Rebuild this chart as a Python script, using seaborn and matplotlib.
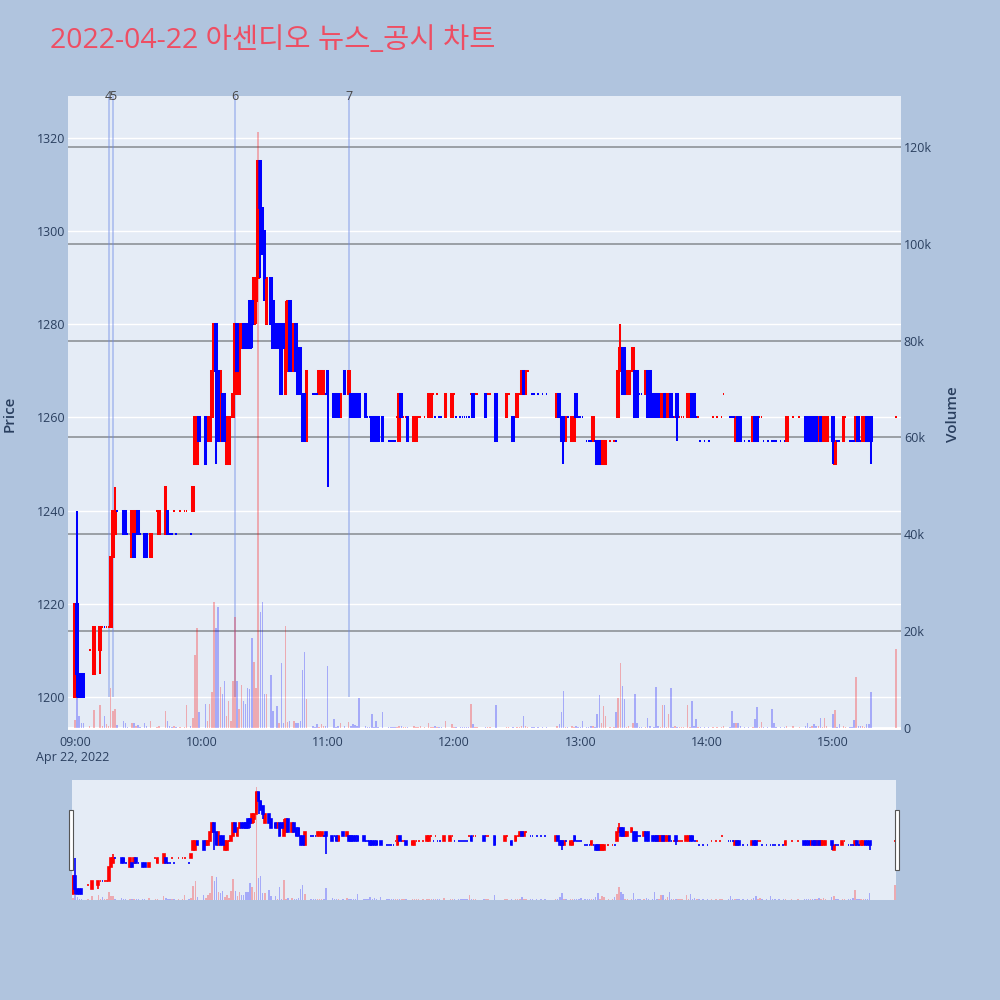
import matplotlib.pyplot as plt
import matplotlib.transforms as mtransforms
import pandas as pd
import seaborn as sns
from matplotlib.lines import Line2D
from matplotlib.patches import Rectangle

# minute bars, x = minutes after 09:00, prices in KRW, volume in thousand shares
bar_min = [0, 1, 2, 3, 4, 9, 12, 17, 18, 19,
           23, 24, 27, 28, 29, 30, 33, 34, 36, 40,
           43, 44, 56, 57, 58, 59, 62, 63, 64, 65,
           66, 67, 68, 69, 70, 71, 72, 73, 75, 76,
           77, 78, 79, 80, 81, 82, 83, 84, 85, 86,
           87, 88, 89, 90, 91, 93, 94, 96, 97, 98,
           99, 100, 101, 102, 104, 105, 106, 107, 108, 109,
           110, 116, 117, 118, 120, 123, 125, 126, 128, 130,
           131, 132, 133, 134, 135, 138, 141, 142, 143, 144,
           146, 154, 155, 158, 161, 162, 168, 169, 176, 179,
           189, 195, 200, 205, 208, 210, 212, 213, 214, 229,
           230, 231, 232, 233, 236, 237, 238, 246, 248, 249,
           250, 251, 252, 258, 259, 260, 261, 262, 263, 265,
           266, 267, 271, 272, 273, 275, 276, 277, 278, 279,
           280, 281, 282, 283, 286, 291, 292, 293, 294, 314,
           315, 316, 322, 323, 324, 338, 347, 348, 349, 350,
           351, 352, 353, 354, 355, 356, 357, 360, 361, 365,
           371, 372, 374, 375, 376, 377, 378]
bar_open = [1200, 1220, 1205, 1205, 1205, 1205, 1210, 1215, 1230, 1235,
            1240, 1240, 1230, 1235, 1235, 1240, 1235, 1235, 1230, 1235,
            1235, 1240, 1240, 1250, 1250, 1260, 1260, 1255, 1255, 1260,
            1270, 1280, 1270, 1255, 1265, 1265, 1250, 1250, 1260, 1265,
            1280, 1265, 1275, 1280, 1280, 1280, 1285, 1285, 1280, 1285,
            1290, 1315, 1305, 1300, 1280, 1290, 1285, 1280, 1275, 1280,
            1280, 1265, 1270, 1285, 1270, 1280, 1275, 1275, 1265, 1265,
            1255, 1265, 1265, 1265, 1270, 1265, 1265, 1260, 1270, 1265,
            1265, 1265, 1265, 1265, 1265, 1265, 1260, 1260, 1260, 1260,
            1260, 1255, 1265, 1260, 1255, 1255, 1260, 1260, 1260, 1260,
            1265, 1265, 1265, 1260, 1260, 1260, 1265, 1270, 1265, 1260,
            1265, 1260, 1260, 1255, 1255, 1255, 1265, 1255, 1255, 1255,
            1250, 1250, 1250, 1260, 1270, 1275, 1275, 1265, 1265, 1270,
            1270, 1270, 1265, 1270, 1270, 1265, 1265, 1265, 1260, 1260,
            1265, 1260, 1260, 1265, 1265, 1260, 1260, 1265, 1265, 1255,
            1260, 1260, 1255, 1260, 1260, 1255, 1260, 1260, 1260, 1255,
            1260, 1260, 1255, 1260, 1255, 1255, 1255, 1260, 1250, 1255,
            1255, 1260, 1255, 1255, 1260, 1260, 1260]
bar_high = [1220, 1240, 1205, 1205, 1205, 1215, 1215, 1230, 1240, 1245,
            1240, 1240, 1240, 1235, 1240, 1240, 1235, 1235, 1235, 1240,
            1245, 1240, 1245, 1260, 1260, 1260, 1260, 1260, 1260, 1270,
            1280, 1280, 1270, 1270, 1265, 1265, 1260, 1260, 1265, 1280,
            1280, 1275, 1280, 1280, 1280, 1280, 1285, 1285, 1290, 1290,
            1315, 1315, 1305, 1300, 1290, 1290, 1285, 1280, 1280, 1280,
            1280, 1285, 1285, 1285, 1280, 1280, 1275, 1275, 1265, 1265,
            1270, 1270, 1270, 1270, 1270, 1265, 1265, 1265, 1270, 1270,
            1265, 1265, 1265, 1265, 1265, 1265, 1260, 1260, 1260, 1260,
            1260, 1265, 1265, 1260, 1260, 1260, 1265, 1265, 1265, 1265,
            1265, 1265, 1265, 1265, 1260, 1265, 1270, 1270, 1270, 1265,
            1265, 1260, 1260, 1260, 1260, 1260, 1265, 1260, 1255, 1255,
            1255, 1255, 1255, 1270, 1280, 1275, 1275, 1270, 1270, 1275,
            1270, 1270, 1270, 1270, 1270, 1265, 1265, 1265, 1265, 1265,
            1265, 1265, 1265, 1265, 1265, 1265, 1265, 1265, 1265, 1260,
            1260, 1260, 1260, 1260, 1260, 1260, 1260, 1260, 1260, 1260,
            1260, 1260, 1260, 1260, 1260, 1260, 1260, 1260, 1255, 1260,
            1260, 1260, 1260, 1260, 1260, 1260, 1260]
bar_low = [1200, 1200, 1200, 1200, 1200, 1205, 1205, 1215, 1230, 1235,
           1235, 1235, 1230, 1230, 1235, 1235, 1230, 1230, 1230, 1235,
           1235, 1235, 1240, 1250, 1250, 1255, 1250, 1255, 1255, 1260,
           1270, 1250, 1255, 1255, 1255, 1255, 1250, 1250, 1260, 1265,
           1270, 1265, 1275, 1275, 1275, 1275, 1275, 1275, 1280, 1280,
           1290, 1290, 1295, 1285, 1280, 1280, 1275, 1275, 1275, 1265,
           1275, 1265, 1270, 1270, 1270, 1270, 1265, 1265, 1255, 1255,
           1255, 1265, 1265, 1265, 1245, 1260, 1260, 1260, 1265, 1265,
           1260, 1260, 1260, 1260, 1260, 1260, 1255, 1255, 1255, 1255,
           1255, 1255, 1260, 1255, 1255, 1255, 1260, 1260, 1260, 1260,
           1260, 1260, 1255, 1260, 1255, 1260, 1265, 1265, 1265, 1260,
           1260, 1255, 1250, 1255, 1255, 1255, 1260, 1255, 1250, 1250,
           1250, 1250, 1250, 1260, 1270, 1265, 1265, 1265, 1265, 1270,
           1260, 1260, 1265, 1260, 1260, 1260, 1260, 1260, 1260, 1260,
           1260, 1260, 1260, 1260, 1255, 1260, 1260, 1260, 1260, 1255,
           1255, 1255, 1255, 1255, 1255, 1255, 1255, 1255, 1255, 1255,
           1255, 1255, 1255, 1255, 1255, 1255, 1255, 1250, 1250, 1255,
           1255, 1255, 1255, 1255, 1255, 1255, 1250]
bar_close = [1220, 1205, 1200, 1200, 1200, 1215, 1215, 1230, 1240, 1240,
             1235, 1235, 1240, 1230, 1240, 1235, 1230, 1230, 1235, 1240,
             1245, 1235, 1245, 1260, 1260, 1255, 1250, 1260, 1260, 1270,
             1280, 1270, 1255, 1270, 1255, 1255, 1260, 1260, 1265, 1280,
             1270, 1275, 1280, 1275, 1275, 1275, 1275, 1280, 1290, 1290,
             1315, 1305, 1295, 1290, 1290, 1280, 1275, 1275, 1280, 1265,
             1275, 1280, 1285, 1270, 1280, 1270, 1265, 1265, 1255, 1255,
             1270, 1270, 1270, 1270, 1265, 1260, 1260, 1265, 1265, 1270,
             1260, 1260, 1260, 1260, 1260, 1260, 1255, 1255, 1255, 1255,
             1255, 1265, 1260, 1255, 1260, 1260, 1265, 1265, 1265, 1265,
             1260, 1260, 1255, 1265, 1255, 1265, 1270, 1265, 1270, 1265,
             1260, 1255, 1255, 1260, 1260, 1260, 1260, 1260, 1250, 1250,
             1255, 1255, 1255, 1270, 1275, 1265, 1265, 1270, 1270, 1275,
             1260, 1260, 1270, 1260, 1260, 1260, 1260, 1260, 1265, 1265,
             1260, 1265, 1265, 1260, 1260, 1265, 1265, 1260, 1260, 1260,
             1255, 1255, 1260, 1255, 1255, 1260, 1255, 1255, 1255, 1260,
             1255, 1255, 1260, 1255, 1260, 1260, 1260, 1255, 1255, 1260,
             1260, 1255, 1260, 1260, 1255, 1255, 1255]
bar_vol = [1.6, 6.8, 2.5, 1.0, 1.0, 3.7, 4.8, 8.3, 3.5, 4.0,
           1.5, 1.0, 1.0, 1.0, 0.5, 0.7, 1.0, 0.5, 1.5, 0.5,
           3.5, 1.5, 2.0, 15.0, 20.6, 3.3, 5.0, 1.5, 5.0, 7.5,
           26.0, 20.6, 25.0, 8.5, 7.0, 9.7, 2.5, 5.5, 9.7, 23.0,
           9.7, 4.0, 8.8, 5.5, 5.0, 8.3, 8.0, 18.6, 13.6, 8.3,
           123.0, 24.0, 26.0, 7.0, 7.0, 11.0, 3.5, 4.5, 1.0, 13.4,
           1.0, 21.0, 1.2, 1.5, 1.5, 1.0, 1.0, 1.5, 12.0, 15.7,
           6.0, 0.3, 0.8, 0.5, 12.8, 1.9, 0.5, 1.0, 0.5, 1.3,
           0.5, 0.8, 0.6, 0.4, 6.2, 0.5, 2.9, 0.3, 1.5, 0.3,
           3.3, 0.4, 0.4, 0.3, 0.5, 0.3, 1.0, 0.3, 1.5, 0.8,
           0.8, 0.3, 4.8, 0.3, 0.3, 0.3, 0.5, 2.5, 0.5, 0.5,
           0.8, 3.3, 7.7, 0.3, 0.5, 0.3, 0.5, 0.5, 3.0, 6.8,
           1.0, 4.5, 2.5, 6.3, 13.4, 8.7, 6.1, 0.3, 0.5, 1.0,
           7.0, 1.0, 0.3, 2.0, 0.5, 0.3, 8.4, 0.5, 0.3, 4.8,
           4.8, 0.3, 2.9, 8.2, 0.3, 4.7, 0.3, 5.6, 0.5, 1.0,
           1.0, 0.5, 0.3, 1.9, 4.3, 0.5, 0.5, 1.0, 0.3, 0.5,
           0.8, 0.5, 0.5, 2.1, 0.3, 2.1, 0.5, 3.0, 3.8, 0.5,
           10.6, 0.5, 0.5, 0.3, 0.8, 0.8, 7.5]

# single-price minutes drawn red (up) / blue (down)
up_doji_min = [7, 13, 15, 16, 39, 47, 50, 52, 53, 74,
               153, 156, 157, 163, 164, 166, 170, 172, 180, 188,
               190, 191, 196, 197, 206, 211, 215, 254, 256, 285,
               287, 288, 289, 296, 303, 305, 307, 308, 325, 326,
               341, 344, 366, 390]
up_doji_price = [1210, 1215, 1215, 1215, 1240, 1240, 1240, 1240, 1240, 1260,
                 1260, 1260, 1260, 1260, 1260, 1260, 1265, 1265, 1265, 1265,
                 1265, 1265, 1265, 1265, 1265, 1265, 1270, 1255, 1255, 1260,
                 1260, 1260, 1260, 1260, 1260, 1260, 1260, 1265, 1260, 1260,
                 1260, 1260, 1260, 1260]
up_doji_vol = [0.5, 0.5, 0.8, 0.5, 0.3, 0.5, 0.3, 0.3, 4.8, 1.5,
               0.3, 0.3, 0.2, 0.3, 0.5, 0.3, 0.3, 0.3, 0.3, 5.0,
               0.3, 0.3, 0.3, 0.3, 0.3, 0.3, 0.3, 0.3, 0.3, 0.5,
               0.3, 0.3, 0.3, 0.3, 0.3, 0.3, 0.3, 0.5, 0.3, 1.3,
               0.5, 0.3, 0.3, 16.4]
down_doji_min = [14, 20, 25, 31, 45, 46, 48, 55, 113, 114,
                 115, 119, 124, 139, 140, 149, 150, 151, 152, 171,
                 173, 174, 181, 183, 184, 185, 186, 187, 217, 218,
                 220, 222, 224, 234, 239, 240, 241, 243, 244, 245,
                 247, 257, 268, 269, 284, 295, 297, 299, 301, 311,
                 312, 313, 318, 320, 327, 329, 331, 332, 333, 335,
                 337, 362, 363, 368, 369, 370, 373]
down_doji_price = [1215, 1240, 1235, 1235, 1235, 1235, 1235, 1235, 1265, 1265,
                   1265, 1265, 1265, 1260, 1260, 1255, 1255, 1255, 1255, 1260,
                   1260, 1260, 1260, 1260, 1260, 1260, 1260, 1260, 1265, 1265,
                   1265, 1265, 1265, 1260, 1260, 1260, 1260, 1255, 1255, 1255,
                   1255, 1255, 1265, 1265, 1260, 1260, 1255, 1255, 1255, 1260,
                   1260, 1260, 1255, 1255, 1255, 1255, 1255, 1255, 1255, 1255,
                   1255, 1255, 1255, 1255, 1255, 1255, 1255]
down_doji_vol = [2.5, 0.7, 0.3, 0.3, 0.5, 0.3, 0.3, 0.5, 0.5, 0.3,
                 0.8, 0.4, 0.3, 0.3, 0.3, 0.3, 0.3, 0.3, 0.3, 0.5,
                 0.3, 0.3, 0.3, 0.3, 0.3, 0.3, 0.3, 0.3, 0.3, 0.3,
                 0.3, 0.3, 0.3, 0.3, 0.3, 0.3, 1.5, 0.3, 0.3, 0.5,
                 0.3, 3.4, 0.3, 0.3, 0.3, 1.9, 0.3, 0.3, 0.3, 0.3,
                 3.6, 1.0, 0.3, 0.3, 0.3, 0.3, 4.0, 1.0, 0.3, 0.3,
                 0.3, 0.3, 0.8, 0.3, 0.3, 1.7, 0.5]

# news / disclosure markers
news_labels = ["4", "5", "6", "7"]
news_min = [16, 18, 76, 130]

tick_min = [0, 60, 120, 180, 240, 300, 360]
tick_labels = ["09:00", "10:00", "11:00", "12:00", "13:00", "14:00", "15:00"]
price_ticks = [1200, 1220, 1240, 1260, 1280, 1300, 1320]
vol_ticks = [0, 20, 40, 60, 80, 100, 120]
vol_tick_labels = ["0", "20k", "40k", "60k", "80k", "100k", "120k"]

title = "2022-04-22 아센디오 뉴스_공시 차트"

BG = "#b0c4de"
PLOT_BG = "#e5ecf6"
UP = "#ff0000"
DOWN = "#0000ff"
TXT = "#2a3f5f"

sns.set_theme(style="white")
plt.rcParams["font.family"] = ["Open Sans", "Noto Sans CJK KR", "DejaVu Sans"]

# one table for all minutes
candles = pd.DataFrame({"minute": bar_min, "open": bar_open, "high": bar_high,
                        "low": bar_low, "close": bar_close, "volume": bar_vol})
candles["up"] = candles["close"] > candles["open"]
up_doji = pd.DataFrame({"minute": up_doji_min, "open": up_doji_price, "high": up_doji_price,
                        "low": up_doji_price, "close": up_doji_price, "volume": up_doji_vol})
up_doji["up"] = True
down_doji = pd.DataFrame({"minute": down_doji_min, "open": down_doji_price, "high": down_doji_price,
                          "low": down_doji_price, "close": down_doji_price, "volume": down_doji_vol})
down_doji["up"] = False
df = pd.concat([candles, up_doji, down_doji]).sort_values("minute").reset_index(drop=True)

PRICE_LIM = (1192.9, 1329.0)
VOL_LIM = (-0.4, 130.5)


def draw_candles(a, data, lw):
    for is_up, color in ((True, UP), (False, DOWN)):
        d = data[data["up"] == is_up]
        a.vlines(d["minute"], d["low"], d["high"], color=color, lw=lw, zorder=3)
        a.bar(d["minute"], (d["close"] - d["open"]).abs(), bottom=d[["open", "close"]].min(axis=1),
              width=0.8, color=color, edgecolor=color, linewidth=lw, zorder=3)


def draw_volume(a, data):
    sns.histplot(data=data, x="minute", weights="volume", hue="up", hue_order=[True, False],
                 palette={True: UP, False: DOWN}, discrete=True, shrink=0.7, alpha=0.28,
                 linewidth=0, legend=False, ax=a)
    a.set_xlabel("")
    a.set_ylabel("")


fig = plt.figure(figsize=(10, 10), dpi=100, facecolor=BG)

# main chart
ax = fig.add_axes([0.068, 0.270, 0.833, 0.634])
ax.set_facecolor(PLOT_BG)
axv = ax.twinx()

draw_candles(ax, df, lw=1.45)
draw_volume(axv, df)

ax.set_xlim(-3.3, 392.3)
ax.set_ylim(*PRICE_LIM)
axv.set_ylim(*VOL_LIM)

# gridlines of both axes sit below the candles
for p in price_ticks:
    ax.axhline(p, color="white", lw=1.0, zorder=0.5)
vol_tr = mtransforms.blended_transform_factory(ax.transAxes, axv.transData)
for v in vol_ticks:
    if v == 0:
        ax.add_artist(Line2D([0, 1], [v, v], transform=vol_tr, color="white", lw=2.0, zorder=0.6))
    else:
        ax.add_artist(Line2D([0, 1], [v, v], transform=vol_tr, color="#8e9298", lw=1.2, zorder=0.6))

for m, lab in zip(news_min, news_labels):
    ax.vlines(m, 1200, PRICE_LIM[1], color="#6f8ae6", lw=1.3, alpha=0.45, zorder=2)
    ax.text(m, PRICE_LIM[1], lab, ha="center", va="center", fontsize=9, color="#444444",
            clip_on=False, zorder=5)

ax.set_xticks(tick_min)
ax.set_xticklabels(tick_labels)
ax.set_yticks(price_ticks)
ax.set_yticklabels([str(p) for p in price_ticks])
axv.set_yticks(vol_ticks)
axv.set_yticklabels(vol_tick_labels)
ax.tick_params(axis="x", length=0, pad=4, labelsize=9, colors=TXT)
ax.tick_params(axis="y", length=0, pad=2, labelsize=9, colors=TXT)
axv.tick_params(axis="y", length=0, pad=2, labelsize=9, colors=TXT)
ax.grid(False)
axv.grid(False)
for a in (ax, axv):
    for s in a.spines.values():
        s.set_visible(False)

fig.text(0.073, 0.243, "Apr 22, 2022", ha="center", va="center", fontsize=9, color=TXT)
fig.text(0.010, 0.586, "Price", rotation=90, ha="center", va="center", fontsize=11,
         color=TXT, fontweight="semibold")
fig.text(0.953, 0.586, "Volume", rotation=90, ha="center", va="center", fontsize=11,
         color=TXT, fontweight="semibold")
fig.text(0.050, 0.959, title, ha="left", va="center", fontsize=20.5, color="#ee4e63",
         family=["Open Sans", "Noto Sans CJK KR", "DejaVu Sans"])

# range slider with a miniature of the whole session
axs = fig.add_axes([0.072, 0.100, 0.824, 0.120])
axs.set_facecolor(PLOT_BG)
axsv = axs.twinx()
draw_candles(axs, df, lw=1.2)
draw_volume(axsv, df)
axs.set_xlim(-0.5, 390.5)
axs.set_ylim(*PRICE_LIM)
axsv.set_ylim(*VOL_LIM)
for a in (axs, axsv):
    a.set_xticks([])
    a.set_yticks([])
    a.grid(False)
    for s in a.spines.values():
        s.set_visible(False)

for hx in (0.069, 0.895):
    fig.patches.append(Rectangle((hx, 0.130), 0.004, 0.060, transform=fig.transFigure,
                                 facecolor="white", edgecolor="#555555", lw=0.8))

fig.savefig("out.png", dpi=100, facecolor=BG)
